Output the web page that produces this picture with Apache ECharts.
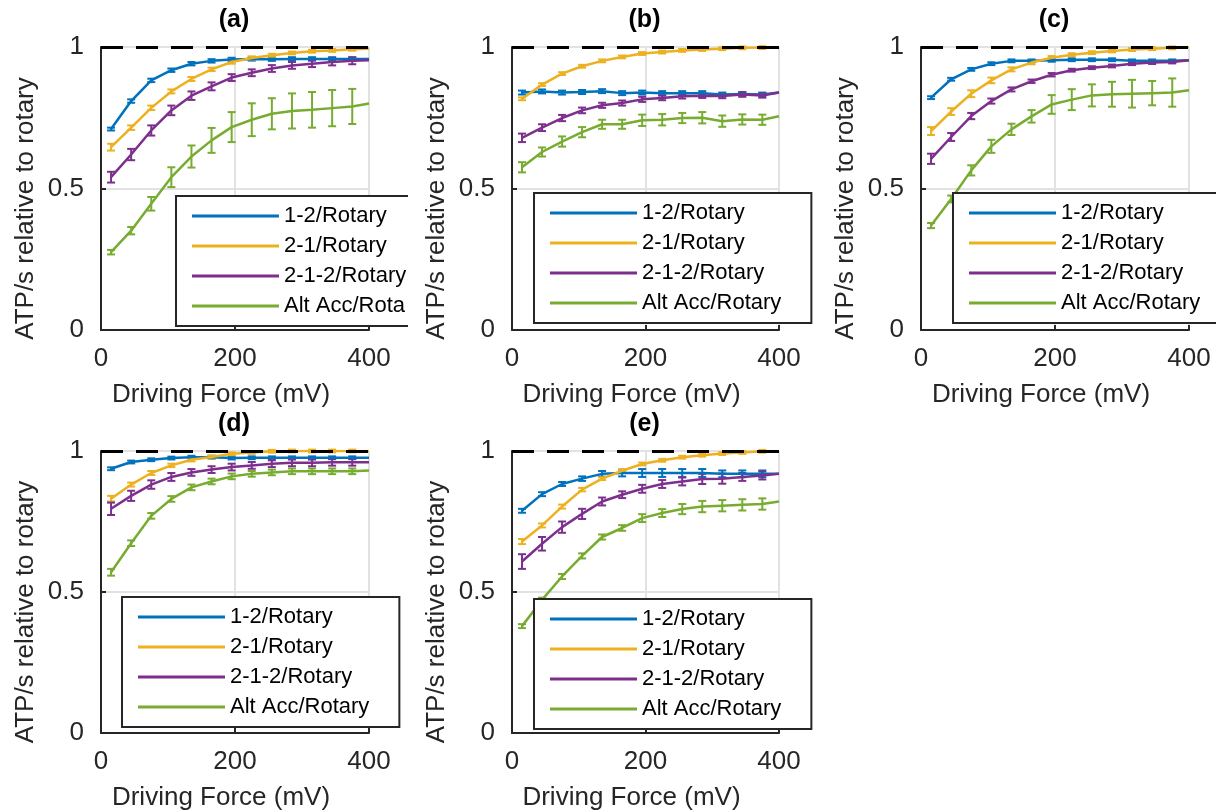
<!DOCTYPE html>
<html>
<head>
<meta charset="utf-8">
<script src="https://cdn.jsdelivr.net/npm/echarts@6/dist/echarts.min.js"></script>
<style>
  html, body { margin: 0; padding: 0; background: #fff; }
  #chart { width: 1216px; height: 812px; }
</style>
</head>
<body>
<div id="chart"></div>
<script>
// driving force (mV): lines run to 400, error bars stop at 375
const xValues = [15, 45, 75, 105, 135, 165, 195, 225, 255, 285, 315, 345, 375, 400];
const errorX = [15, 45, 75, 105, 135, 165, 195, 225, 255, 285, 315, 345, 375];
const seriesNames = ['1-2/Rotary', '2-1/Rotary', '2-1-2/Rotary', 'Alt Acc/Rotary'];
const panelTitles = ['(a)', '(b)', '(c)', '(d)', '(e)'];
const xTicks = [0, 200, 400];
const yTicks = [0, 0.5, 1];

// panel (a)
const a12 = [0.71, 0.809, 0.882, 0.918, 0.941, 0.951, 0.956, 0.958, 0.957, 0.958, 0.958, 0.958, 0.958, 0.958];
const a21 = [0.646, 0.715, 0.785, 0.843, 0.887, 0.921, 0.947, 0.961, 0.971, 0.979, 0.985, 0.988, 0.992, 0.994];
const a212 = [0.54, 0.62, 0.705, 0.776, 0.828, 0.861, 0.892, 0.909, 0.924, 0.935, 0.941, 0.947, 0.951, 0.953];
const aAlt = [0.275, 0.351, 0.446, 0.54, 0.613, 0.67, 0.717, 0.743, 0.764, 0.774, 0.778, 0.784, 0.79, 0.8];
const a12Err = [0.005, 0.006, 0.006, 0.006, 0.006, 0.006, 0.006, 0.006, 0.006, 0.006, 0.006, 0.006, 0.006];
const a21Err = [0.012, 0.008, 0.008, 0.007, 0.007, 0.006, 0.006, 0.006, 0.005, 0.005, 0.005, 0.005, 0.005];
const a212Err = [0.019, 0.02, 0.018, 0.017, 0.015, 0.014, 0.012, 0.012, 0.012, 0.012, 0.012, 0.012, 0.012];
const aAltErr = [0.008, 0.013, 0.024, 0.035, 0.039, 0.044, 0.053, 0.058, 0.055, 0.062, 0.063, 0.064, 0.062];

// panel (b)
const b12 = [0.839, 0.843, 0.839, 0.841, 0.844, 0.837, 0.839, 0.837, 0.837, 0.837, 0.832, 0.834, 0.832, 0.839];
const b21 = [0.817, 0.867, 0.906, 0.932, 0.951, 0.965, 0.977, 0.982, 0.988, 0.991, 0.994, 0.997, 0.998, 1.0];
const b212 = [0.679, 0.715, 0.749, 0.776, 0.794, 0.802, 0.815, 0.82, 0.826, 0.828, 0.827, 0.832, 0.829, 0.839];
const bAlt = [0.575, 0.629, 0.666, 0.699, 0.727, 0.727, 0.741, 0.743, 0.749, 0.75, 0.738, 0.744, 0.743, 0.755];
const b12Err = [0.007, 0.007, 0.007, 0.007, 0.007, 0.007, 0.007, 0.007, 0.007, 0.007, 0.007, 0.007, 0.007];
const b21Err = [0.005, 0.005, 0.005, 0.005, 0.005, 0.005, 0.005, 0.005, 0.005, 0.005, 0.005, 0.005, 0.005];
const b212Err = [0.015, 0.012, 0.011, 0.01, 0.009, 0.009, 0.009, 0.008, 0.008, 0.008, 0.008, 0.008, 0.008];
const bAltErr = [0.018, 0.016, 0.018, 0.018, 0.016, 0.016, 0.02, 0.02, 0.018, 0.02, 0.02, 0.018, 0.018];

// panel (c)
const c12 = [0.821, 0.886, 0.921, 0.941, 0.951, 0.951, 0.953, 0.955, 0.955, 0.955, 0.951, 0.951, 0.951, 0.953];
const c21 = [0.703, 0.772, 0.835, 0.882, 0.921, 0.945, 0.962, 0.973, 0.98, 0.986, 0.991, 0.994, 0.997, 1.0];
const c212 = [0.605, 0.682, 0.756, 0.809, 0.85, 0.879, 0.902, 0.918, 0.927, 0.933, 0.941, 0.945, 0.947, 0.953];
const cAlt = [0.369, 0.463, 0.564, 0.649, 0.709, 0.755, 0.797, 0.814, 0.829, 0.833, 0.835, 0.837, 0.839, 0.847];
const c12Err = [0.005, 0.005, 0.005, 0.005, 0.005, 0.005, 0.005, 0.005, 0.005, 0.005, 0.005, 0.005, 0.005];
const c21Err = [0.014, 0.012, 0.012, 0.01, 0.007, 0.006, 0.006, 0.005, 0.005, 0.005, 0.005, 0.005, 0.005];
const c212Err = [0.018, 0.014, 0.011, 0.009, 0.007, 0.006, 0.006, 0.005, 0.005, 0.005, 0.005, 0.005, 0.005];
const cAltErr = [0.009, 0.012, 0.018, 0.023, 0.02, 0.022, 0.033, 0.037, 0.039, 0.044, 0.049, 0.043, 0.05];

// panel (d)
const d12 = [0.937, 0.961, 0.969, 0.975, 0.978, 0.978, 0.975, 0.976, 0.976, 0.976, 0.976, 0.976, 0.976, 0.976];
const d21 = [0.831, 0.881, 0.922, 0.949, 0.969, 0.979, 0.99, 0.995, 0.999, 1.0, 1.0, 1.0, 1.0, 1.0];
const d212 = [0.795, 0.841, 0.881, 0.908, 0.924, 0.934, 0.943, 0.949, 0.955, 0.958, 0.958, 0.96, 0.96, 0.96];
const dAlt = [0.57, 0.673, 0.77, 0.83, 0.871, 0.892, 0.91, 0.919, 0.924, 0.928, 0.928, 0.928, 0.928, 0.931];
const d12Err = [0.005, 0.005, 0.005, 0.005, 0.005, 0.005, 0.005, 0.005, 0.005, 0.005, 0.005, 0.005, 0.005];
const d21Err = [0.01, 0.007, 0.007, 0.006, 0.006, 0.005, 0.005, 0.005, 0.005, 0.005, 0.005, 0.005, 0.005];
const d212Err = [0.022, 0.018, 0.015, 0.014, 0.012, 0.012, 0.012, 0.012, 0.012, 0.012, 0.012, 0.012, 0.012];
const dAltErr = [0.012, 0.01, 0.01, 0.01, 0.01, 0.01, 0.01, 0.01, 0.01, 0.01, 0.01, 0.01, 0.01];

// panel (e)
const e12 = [0.788, 0.847, 0.883, 0.902, 0.919, 0.922, 0.922, 0.922, 0.922, 0.922, 0.919, 0.919, 0.919, 0.919];
const e21 = [0.679, 0.736, 0.803, 0.863, 0.902, 0.93, 0.954, 0.967, 0.978, 0.985, 0.991, 0.995, 0.999, 1.0];
const e212 = [0.608, 0.671, 0.73, 0.777, 0.821, 0.845, 0.866, 0.883, 0.892, 0.901, 0.902, 0.908, 0.913, 0.919];
const eAlt = [0.379, 0.472, 0.555, 0.628, 0.695, 0.727, 0.762, 0.78, 0.794, 0.803, 0.806, 0.809, 0.812, 0.821];
const e12Err = [0.007, 0.007, 0.007, 0.008, 0.01, 0.012, 0.014, 0.014, 0.014, 0.014, 0.012, 0.012, 0.012];
const e21Err = [0.009, 0.007, 0.007, 0.006, 0.005, 0.005, 0.005, 0.005, 0.005, 0.005, 0.005, 0.005, 0.005];
const e212Err = [0.026, 0.024, 0.02, 0.018, 0.014, 0.012, 0.014, 0.014, 0.014, 0.018, 0.018, 0.014, 0.014];
const eAltErr = [0.007, 0.008, 0.009, 0.009, 0.009, 0.01, 0.014, 0.014, 0.018, 0.02, 0.02, 0.02, 0.02];

const panelValues = [
  [a12, a21, a212, aAlt],
  [b12, b21, b212, bAlt],
  [c12, c21, c212, cAlt],
  [d12, d21, d212, dAlt],
  [e12, e21, e212, eAlt]
];
const panelErrors = [
  [a12Err, a21Err, a212Err, aAltErr],
  [b12Err, b21Err, b212Err, bAltErr],
  [c12Err, c21Err, c212Err, cAltErr],
  [d12Err, d21Err, d212Err, dAltErr],
  [e12Err, e21Err, e212Err, eAltErr]
];

const colors = ['#0072BD', '#EDB120', '#7E2F8E', '#77AC30'];
const font = "'Liberation Sans', Arial, Helvetica, sans-serif";
const axisColor = '#262626';

// plot boxes
const grids = [
  { left: 101, top: 47, width: 268, height: 283 },
  { left: 512, top: 47, width: 267, height: 283 },
  { left: 921, top: 47, width: 268, height: 283 },
  { left: 101, top: 451, width: 268, height: 282 },
  { left: 512, top: 451, width: 267, height: 282 }
];
const legendPos = [
  { left: 176, top: 196 },
  { left: 534, top: 193 },
  { left: 953, top: 193 },
  { left: 122, top: 597 },
  { left: 534, top: 599 }
];

const chart = echarts.init(document.getElementById('chart'));

function errorBarItem(params, api) {
  const x = api.value(0);
  const lo = api.coord([x, api.value(1)]);
  const hi = api.coord([x, api.value(2)]);
  const cap = 4;
  const style = { stroke: api.visual('color'), lineWidth: 2 };
  return {
    type: 'group',
    children: [
      { type: 'line', shape: { x1: lo[0], y1: lo[1], x2: hi[0], y2: hi[1] }, style },
      { type: 'line', shape: { x1: lo[0] - cap, y1: lo[1], x2: lo[0] + cap, y2: lo[1] }, style },
      { type: 'line', shape: { x1: hi[0] - cap, y1: hi[1], x2: hi[0] + cap, y2: hi[1] }, style }
    ]
  };
}

const xAxes = [];
const yAxes = [];
const series = [];
const legends = [];
const titles = [];

grids.forEach((g, i) => {
  xAxes.push({
    gridIndex: i,
    type: 'value',
    min: 0,
    max: 400,
    interval: 200,
    name: 'Driving Force (mV)',
    nameLocation: 'middle',
    nameGap: 52,
    nameTextStyle: { fontSize: 26, color: axisColor, fontFamily: font, padding: [0, 28, 0, 0] },
    axisLine: { show: true, lineStyle: { color: axisColor, width: 2 } },
    axisTick: { show: true, inside: true, length: 5, lineStyle: { color: axisColor, width: 2 } },
    axisLabel: { fontSize: 26, color: axisColor, fontFamily: font, margin: 16 },
    splitLine: { show: true, lineStyle: { color: '#e2e2e2', width: 2 } }
  });
  yAxes.push({
    gridIndex: i,
    type: 'value',
    min: 0,
    max: 1,
    interval: 0.5,
    name: 'ATP/s relative to rotary',
    nameLocation: 'middle',
    nameGap: 62,
    nameTextStyle: { fontSize: 26, color: axisColor, fontFamily: font, padding: [0, 40, 0, 0] },
    axisLine: { show: true, lineStyle: { color: axisColor, width: 2 } },
    axisTick: { show: true, inside: true, length: 5, lineStyle: { color: axisColor, width: 2 } },
    axisLabel: { fontSize: 26, color: axisColor, fontFamily: font, margin: 17 },
    splitLine: { show: true, lineStyle: { color: '#e2e2e2', width: 2 } }
  });

  seriesNames.forEach((name, s) => {
    const vals = panelValues[i][s];
    const errs = panelErrors[i][s];
    series.push({
      type: 'line',
      name: name,
      xAxisIndex: i,
      yAxisIndex: i,
      data: xValues.map((x, k) => [x, vals[k]]),
      symbol: 'none',
      color: colors[s],
      lineStyle: { color: colors[s], width: 2.5 },
      silent: true,
      markLine: s === 3 ? {
        silent: true,
        symbol: 'none',
        label: { show: false },
        lineStyle: { color: '#000', width: 3, type: [22, 13] },
        data: [{ yAxis: 1 }]
      } : undefined
    });
    series.push({
      type: 'custom',
      xAxisIndex: i,
      yAxisIndex: i,
      color: colors[s],
      renderItem: errorBarItem,
      encode: { x: 0, y: [1, 2] },
      data: errorX.map((x, k) => [x, vals[k] - errs[k], vals[k] + errs[k]]),
      silent: true
    });
  });

  legends.push({
    data: seriesNames,
    orient: 'vertical',
    left: legendPos[i].left,
    top: legendPos[i].top,
    icon: 'rect',
    itemWidth: 87,
    itemHeight: 3,
    itemGap: 0,
    padding: i === 0 ? [5, 0, 5, 16] : [5, 30, 5, 16],
    backgroundColor: '#fff',
    borderColor: axisColor,
    borderWidth: 2,
    borderRadius: 0,
    selectedMode: false,
    textStyle: i === 0
      ? { fontSize: 22, color: '#000', fontFamily: font, lineHeight: 30, width: 125, overflow: 'truncate', ellipsis: '' }
      : { fontSize: 22, color: '#000', fontFamily: font, lineHeight: 30 }
  });

  titles.push({
    text: panelTitles[i],
    left: g.left + g.width / 2 - 6,
    top: g.top - 44,
    textAlign: 'center',
    textStyle: { fontSize: 25, fontWeight: 'bold', color: '#000', fontFamily: font }
  });
});

chart.setOption({
  animation: false,
  backgroundColor: '#fff',
  title: titles,
  grid: grids,
  xAxis: xAxes,
  yAxis: yAxes,
  legend: legends,
  series: series,
  graphic: [{
    // legend (a) is cut off by the neighbouring panel
    type: 'rect',
    z: 100,
    shape: { x: 408, y: 188, width: 10, height: 145 },
    style: { fill: '#fff' }
  }]
});
</script>
</body>
</html>
